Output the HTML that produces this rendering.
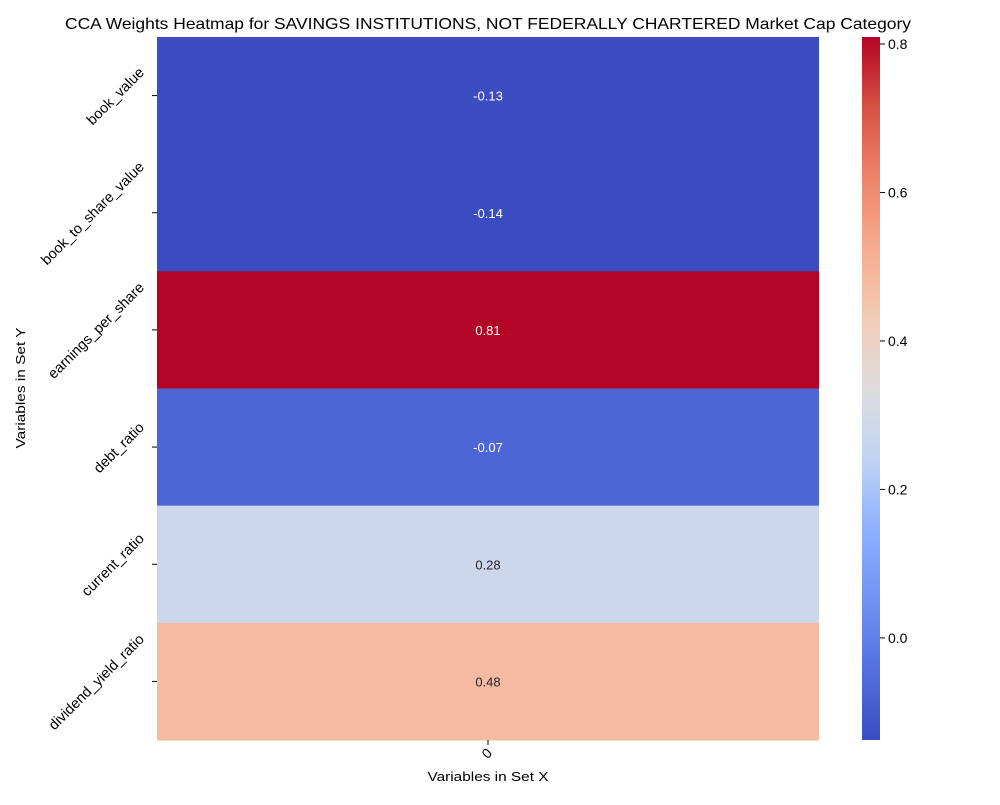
<!DOCTYPE html>
<html><head><meta charset="utf-8"><style>
body{margin:0;background:#fff;font-family:"Liberation Sans",sans-serif;}
svg text{font-family:"Liberation Sans",sans-serif;}
</style></head><body>
<svg id="chart" width="1000" height="800" xmlns="http://www.w3.org/2000/svg">
<text x="488" y="29" font-size="16" text-anchor="middle" textLength="846" lengthAdjust="spacingAndGlyphs" fill="#000">CCA Weights Heatmap for SAVINGS INSTITUTIONS, NOT FEDERALLY CHARTERED Market Cap Category</text>
<g id="cells"></g>
<g id="yticks"></g>
<g id="xticks"></g>
<text x="488" y="781" font-size="13" text-anchor="middle" textLength="121" lengthAdjust="spacingAndGlyphs">Variables in Set X</text>
<text transform="translate(25,388) rotate(-90)" font-size="13" text-anchor="middle" textLength="121" lengthAdjust="spacingAndGlyphs">Variables in Set Y</text>
<defs><linearGradient id="cbg" x1="0" y1="1" x2="0" y2="0"></linearGradient></defs>
<rect x="862" y="37" width="18" height="703" fill="url(#cbg)"/>
<g id="cbticks"></g>
</svg>
<script>
const rowLabels = ["book_value","book_to_share_value","earnings_per_share","debt_ratio","current_ratio","dividend_yield_ratio"];
const colLabels = ["0"];
const values = [-0.135,-0.1375,0.8094,-0.07,0.28,0.48];
const printed = ["-0.13","-0.14","0.81","-0.07","0.28","0.48"];
const cbTicks = [0.0,0.2,0.4,0.6,0.8];
const cbTickLabels = ["0.0","0.2","0.4","0.6","0.8"];

const NS="http://www.w3.org/2000/svg";
const X0=157,X1=819,Y0=37,Y1=740;
const vmin=Math.min(...values), vmax=Math.max(...values);
const stops=[[0,[59,76,192]],[0.1,[84,112,222]],[0.2,[112,147,243]],[0.3,[141,176,254]],[0.4,[192,212,245]],[0.5,[221,220,220]],[0.6,[242,203,183]],[0.7,[247,172,142]],[0.8,[238,132,104]],[0.9,[214,82,68]],[1,[180,4,38]]];
function cmap(t){t=Math.max(0,Math.min(1,t));for(let i=1;i<stops.length;i++){if(t<=stops[i][0]){const a=stops[i-1],b=stops[i],f=(t-a[0])/(b[0]-a[0]);const c=a[1].map((v,k)=>Math.round(v+(b[1][k]-v)*f));return {c:`rgb(${c.join(',')})`,l:(0.299*c[0]+0.587*c[1]+0.114*c[2])};}}}
function norm(v){return (v-vmin)/(vmax-vmin);}
const rowH=(Y1-Y0)/rowLabels.length, colW=(X1-X0)/colLabels.length;
function el(tag,attrs,parent){const e=document.createElementNS(NS,tag);for(const k in attrs)e.setAttribute(k,attrs[k]);parent.appendChild(e);return e;}
const cells=document.getElementById('cells'),yt=document.getElementById('yticks'),xt=document.getElementById('xticks');
values.forEach((v,i)=>{
  const col=cmap(norm(v));
  const r=el('rect',{x:X0,y:Y0+i*rowH,width:colW,height:rowH+0.5,fill:col.c},cells);
  
  
  const t=el('text',{x:X0+colW/2,y:Y0+(i+0.5)*rowH+5,'font-size':13,'text-anchor':'middle',fill:col.l<128?'#fff':'#262626'},cells);
  t.textContent=printed[i];
  
  
  const cy=Y0+(i+0.5)*rowH;
  el('line',{x1:X0-5,x2:X0,y1:cy,y2:cy,stroke:'#000','stroke-width':1},yt);
  const lt=el('text',{'font-size':14.5,'text-anchor':'end'},yt);
  lt.textContent=rowLabels[i];
  
  
  const L=lt.getComputedTextLength();
  lt.setAttribute('transform',`translate(${X0-12},${cy-L*0.3536+4}) rotate(-45)`);
});
colLabels.forEach((c,j)=>{
  const cx=X0+(j+0.5)*colW;
  el('line',{x1:cx,x2:cx,y1:Y1,y2:Y1+5,stroke:'#000','stroke-width':1},xt);
  const lt=el('text',{transform:`translate(${cx+5},${Y1+14}) rotate(-45)`,'font-size':14,'text-anchor':'end'},xt);
  lt.textContent=c;
  
  
});
const g=document.getElementById('cbg');
for(let k=0;k<=20;k++){el('stop',{offset:k/20,'stop-color':cmap(k/20).c},g);}
const cbt=document.getElementById('cbticks');
cbTicks.forEach((v,i)=>{
  const y=Y1-norm(v)*(Y1-Y0);
  el('line',{x1:880,x2:885,y1:y,y2:y,stroke:'#000','stroke-width':1},cbt);
  const t=el('text',{x:888,y:y+5,'font-size':14},cbt);
  t.textContent=cbTickLabels[i];
  
  
});
</script>
</body></html>
